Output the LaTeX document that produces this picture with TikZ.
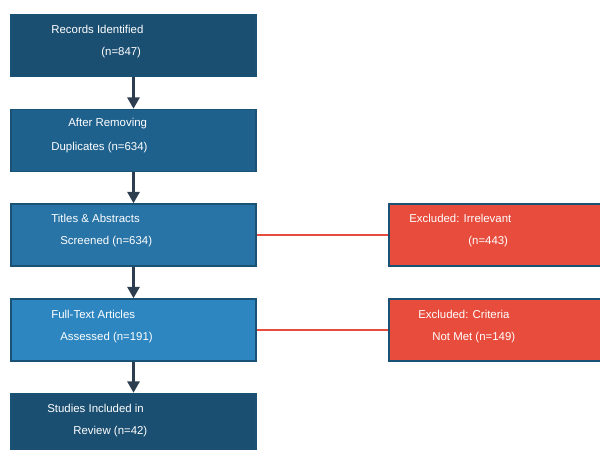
\documentclass[tikz,border=0pt]{standalone}
\usepackage{fontspec}
\setmainfont{Liberation Sans}
\usetikzlibrary{arrows.meta}
\definecolor{navyA}{HTML}{1B4F72}
\definecolor{navyB}{HTML}{1F618D}
\definecolor{navyC}{HTML}{2874A6}
\definecolor{navyD}{HTML}{2E86C1}
\definecolor{edgeblue}{HTML}{1A5276}
\definecolor{exclred}{HTML}{E74C3C}
\definecolor{arrowdark}{HTML}{2C3E50}
\tikzset{
  stage/.style={draw=edgeblue, line width=0.9pt, minimum width=4.9cm, minimum height=1.24cm, inner sep=0pt},
  txt/.style={anchor=west, inner sep=0pt, text=white, font=\fontsize{6.5}{8}\selectfont},
  flow/.style={draw=arrowdark, line width=1.2pt, -{Triangle[length=6.5pt, width=7pt]}},
  cut/.style={draw=exclred, line width=1.2pt}
}
\begin{document}
\begin{tikzpicture}[x=0.02cm, y=-0.02cm]
    \useasboundingbox (0,0) rectangle (600,450);
    % main column
    \node[stage, fill=navyA] (rec) at (133.5,45.5) {};
    \node[stage, fill=navyB] (dup) at (133.5,140.5) {};
    \node[stage, fill=navyC] (scr) at (133.5,235) {};
    \node[stage, fill=navyD] (ful) at (133.5,330) {};
    \node[stage, fill=navyA] (inc) at (133.5,424.5) {};
    % exclusions
    \node[stage, fill=exclred] (irr) at (511.5,235) {};
    \node[stage, fill=exclred] (cri) at (511.5,330) {};
    % texts
    \node[txt] (rec1) at (51,29) {Records Identified};
    \node[txt] (rec2) at (101,52.5) {(n=847)};
    \node[txt] (dup1) at (68,124) {After Removing};
    \node[txt] (dup2) at (51,147.5) {Duplicates (n=634)};
    \node[txt] (scr1) at (51,218) {Titles \& Abstracts};
    \node[txt] (scr2) at (60,242) {Screened (n=634)};
    \node[txt] (ful1) at (51,314) {Full-Text Articles};
    \node[txt] (ful2) at (60,337.5) {Assessed (n=191)};
    \node[txt] (inc1) at (47,408.5) {Studies Included in};
    \node[txt] (inc2) at (73,431.5) {Review (n=42)};
    \node[txt] (irr1) at (409,218) {Excluded: Irrelevant};
    \node[txt] (irr2) at (468,242) {(n=443)};
    \node[txt] (cri1) at (418,314) {Excluded: Criteria};
    \node[txt] (cri2) at (432,337.5) {Not Met (n=149)};
    % connectors
    \draw[flow] (rec) -- (dup);
    \draw[flow] (dup) -- (scr);
    \draw[flow] (scr) -- (ful);
    \draw[flow] (ful) -- (inc);
    \draw[cut] (scr) -- (irr);
    \draw[cut] (ful) -- (cri);
\end{tikzpicture}
\end{document}
